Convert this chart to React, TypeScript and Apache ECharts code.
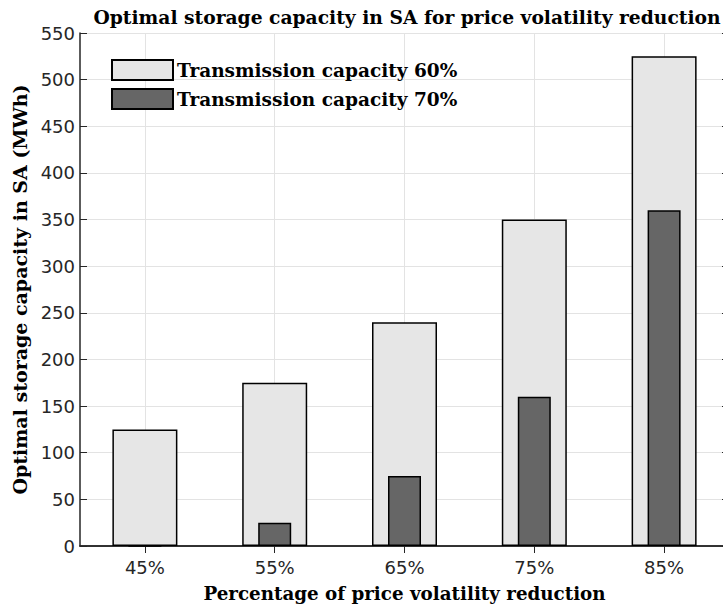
import React, { useEffect, useRef } from "react";
import * as echarts from "echarts";

const categories = ["45%", "55%", "65%", "75%", "85%"];
const capacity60 = [125, 175, 240, 350, 525];
const capacity70 = [0, 25, 75, 160, 360];
const seriesNames = ["Transmission capacity 60%", "Transmission capacity 70%"];

const SERIF = "'DejaVu Serif', 'Liberation Serif', serif";
const SANS = "'DejaVu Sans', sans-serif";
const AXIS = "#262626";

export default function App() {
  const ref = useRef<HTMLDivElement>(null);
  useEffect(() => {
    if (!ref.current) return;
    const chart = echarts.init(ref.current, null, { renderer: "svg" });
    chart.setOption({
      animation: false,
      backgroundColor: "#ffffff",
      title: {
        text: "Optimal storage capacity in SA for price volatility reduction",
        left: 402,
        textAlign: "center",
        top: 2,
        textStyle: { fontFamily: SERIF, fontWeight: "bold", fontSize: 18.7, color: "#000" },
      },
      legend: {
        orient: "vertical",
        left: 106,
        top: 54,
        icon: "rect",
        itemWidth: 61,
        itemHeight: 20,
        itemGap: 7,
        textStyle: { fontFamily: SERIF, fontWeight: "bold", fontSize: 18.5, color: "#000", padding: [0, 0, 0, -1] },
        data: seriesNames,
      },
      grid: { left: 80, top: 33, width: 649, height: 513, outerBoundsMode: "none", containLabel: false },
      xAxis: [
        {
          type: "category",
          data: categories,
          position: "bottom",
          axisLine: { lineStyle: { color: AXIS, width: 1.5 } },
          axisTick: { show: false },
          axisLabel: { fontFamily: SANS, fontSize: 18, color: AXIS, margin: 12 },
          splitLine: { show: true, alignWithLabel: true, lineStyle: { color: "#e3e3e3", width: 1 } },
          name: "Percentage of price volatility reduction",
          nameLocation: "middle",
          nameGap: 38,
          nameTextStyle: { fontFamily: SERIF, fontWeight: "bold", fontSize: 18.3, color: "#000" },
        },
        {
          type: "category",
          data: categories,
          position: "top",
          axisLine: { show: true, lineStyle: { color: AXIS, width: 1.5 } },
          axisTick: { show: true, inside: true, alignWithLabel: true, length: 7, lineStyle: { color: AXIS } },
          axisLabel: { show: false },
          splitLine: { show: false },
        },
      ],
      yAxis: [
        {
          type: "value",
          min: 0,
          max: 550,
          interval: 50,
          position: "left",
          axisLine: { show: true, lineStyle: { color: AXIS, width: 1.5 } },
          axisTick: { show: true, inside: true, length: 7, lineStyle: { color: AXIS } },
          axisLabel: { fontFamily: SANS, fontSize: 18, color: AXIS, margin: 5 },
          splitLine: { show: true, lineStyle: { color: "#e3e3e3", width: 1 } },
          name: "Optimal storage capacity in SA (MWh)",
          nameLocation: "middle",
          nameGap: 46,
          nameTextStyle: { fontFamily: SERIF, fontWeight: "bold", fontSize: 19, color: "#000" },
        },
        {
          type: "value",
          min: 0,
          max: 550,
          interval: 50,
          position: "right",
          axisLine: { show: true, lineStyle: { color: AXIS, width: 1.5 } },
          axisTick: { show: true, inside: true, length: 7, lineStyle: { color: AXIS } },
          axisLabel: { show: false },
          splitLine: { show: false },
        },
      ],
      series: [
        {
          name: seriesNames[0],
          type: "bar",
          xAxisIndex: 0,
          yAxisIndex: 0,
          data: capacity60,
          barWidth: 65,
          itemStyle: { color: "#e6e6e6", borderColor: "#000", borderWidth: 1.5 },
        },
        {
          name: seriesNames[1],
          type: "bar",
          xAxisIndex: 1,
          yAxisIndex: 0,
          data: capacity70,
          barWidth: 33,
          itemStyle: { color: "#666666", borderColor: "#000", borderWidth: 1.5 },
        },
      ],
    });
    return () => chart.dispose();
  }, []);
  return <div ref={ref} style={{ width: 723, height: 608, position: "absolute", left: 0, top: 0 }} />;
}
